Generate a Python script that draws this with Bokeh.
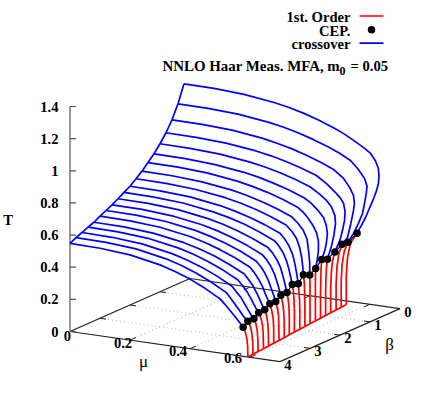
from bokeh.plotting import figure
from bokeh.models import Range1d
from bokeh.core.properties import value
from bokeh.embed import file_html
from bokeh.resources import INLINE

beta_values = [4.0, 3.8, 3.6, 3.4, 3.2, 3.0, 2.8, 2.6, 2.4, 2.2, 2.0, 1.8, 1.6, 1.4, 1.2, 1.0, 0.8, 0.6, 0.4, 0.2]

cep_mu = [.577, .573, .573, .569, .569, .566, .566, .563, .563, .561, .561, .558, .559, .559, .559, .558, .563, .567, .567, .577]
cep_T = [.181, .201, .199, .219, .221, .241, .239, .261, .261, .294, .282, .321, .304, .327, .366, .352, .382, .414, .410, .453]

first_order_mu = [
    [.593, .592, .589, .584, .577], [.590, .589, .586, .581, .573], [.587, .586, .584, .580, .573],
    [.585, .584, .582, .577, .569], [.582, .581, .579, .575, .569], [.579, .579, .577, .572, .566],
    [.577, .576, .575, .571, .566], [.574, .574, .572, .568, .563], [.571, .571, .570, .567, .563],
    [.568, .568, .567, .565, .561], [.566, .566, .565, .563, .561], [.563, .563, .562, .561, .558],
    [.560, .560, .560, .560, .559], [.558, .558, .558, .558, .559], [.555, .555, .556, .557, .559],
    [.552, .552, .553, .555, .558], [.549, .549, .551, .555, .563], [.547, .547, .550, .556, .567],
    [.544, .544, .547, .554, .567], [.541, .541, .545, .555, .577],
]
first_order_T = [
    [0, .072, .118, .154, .181], [0, .080, .131, .171, .201], [0, .080, .129, .169, .199],
    [0, .088, .142, .186, .219], [0, .088, .144, .188, .221], [0, .096, .157, .205, .241],
    [0, .096, .155, .203, .239], [0, .104, .170, .222, .261], [0, .104, .170, .222, .261],
    [0, .118, .191, .250, .294], [0, .113, .183, .240, .282], [0, .128, .209, .273, .321],
    [0, .122, .198, .258, .304], [0, .131, .213, .278, .327], [0, .146, .238, .311, .366],
    [0, .141, .229, .299, .352], [0, .153, .248, .325, .382], [0, .166, .269, .352, .414],
    [0, .164, .267, .349, .410], [0, .181, .294, .385, .453],
]

crossover_head_mu = [0, .1, .2, .3, .35, .4, .45, .5]
crossover_head_T = [
    [.548, .545, .530, .495, .467, .433, .389, .337],
    [.568, .565, .551, .516, .489, .455, .412, .361],
    [.583, .580, .566, .532, .506, .473, .432, .382],
    [.600, .597, .584, .551, .526, .493, .453, .405],
    [.614, .612, .598, .567, .543, .512, .473, .427],
    [.635, .633, .620, .589, .565, .534, .497, .451],
    [.654, .652, .639, .609, .585, .556, .519, .474],
    [.673, .671, .658, .629, .606, .577, .541, .498],
    [.694, .692, .680, .651, .629, .601, .566, .524],
    [.717, .715, .703, .675, .654, .627, .593, .552],
    [.739, .737, .726, .699, .678, .652, .619, .580],
    [.769, .767, .756, .730, .710, .685, .653, .615],
    [.800, .798, .787, .762, .742, .717, .686, .648],
    [.837, .835, .825, .800, .781, .757, .727, .691],
    [.875, .873, .863, .840, .822, .798, .770, .735],
    [.921, .919, .910, .887, .870, .848, .820, .787],
    [.973, .971, .962, .940, .923, .901, .874, .842],
    [1.037, 1.035, 1.026, 1.003, .985, .963, .935, .902],
    [1.120, 1.118, 1.109, 1.086, 1.069, 1.047, 1.019, .986],
    [1.228, 1.226, 1.216, 1.192, 1.174, 1.151, 1.122, 1.087],
]
crossover_tail_mu = [
    [.515, .530, .545, .557, .568],
    [.515, .530, .545, .557, .566],
    [.515, .530, .545, .557, .566],
    [.515, .530, .545, .555, .563],
    [.515, .530, .545, .555, .563],
    [.515, .530, .542, .552, .560],
    [.515, .530, .542, .552, .560],
    [.515, .530, .542, .552, .558],
    [.515, .530, .542, .552, .558],
    [.515, .530, .542, .550, .556],
    [.515, .530, .542, .550, .556],
    [.520, .535, .545, .552, .556],
    [.520, .538, .550, .556, .559],
    [.518, .532, .550, .562, .568, .568, .564],
    [.522, .545, .565, .574, .578, .575, .570],
    [.530, .555, .572, .583, .585, .580, .572],
    [.535, .565, .582, .592, .597, .595, .588, .580],
    [.540, .572, .592, .605, .608, .605, .596, .585],
    [.540, .575, .600, .622, .630, .628, .622, .615, .600, .585],
    [.535, .565, .600, .622, .638, .648, .650, .648, .641, .632, .605, .590],
]
crossover_tail_T = [
    [.310, .280, .250, .225, .202],
    [.330, .295, .260, .230, .212],
    [.350, .320, .275, .240, .215],
    [.375, .340, .295, .260, .235],
    [.395, .360, .310, .270, .240],
    [.420, .380, .340, .295, .265],
    [.445, .405, .360, .310, .270],
    [.470, .430, .385, .330, .290],
    [.495, .455, .410, .345, .300],
    [.525, .485, .435, .385, .335],
    [.550, .510, .460, .400, .340],
    [.580, .540, .490, .430, .370],
    [.615, .574, .525, .440, .380],
    [.665, .637, .592, .550, .500, .440, .380],
    [.711, .672, .630, .585, .534, .480, .430],
    [.752, .717, .680, .630, .581, .510, .440],
    [.800, .752, .720, .691, .640, .585, .520, .460],
    [.870, .825, .775, .728, .680, .635, .550, .461],
    [.955, .921, .875, .821, .776, .736, .670, .602, .530, .470],
    [1.058, 1.027, .990, .961, .920, .874, .825, .781, .730, .683, .558, .500],
]

mu_ticks = [0, .2, .4, .6]
mu_tick_labels = ["0", "0.2", "0.4", "0.6"]
beta_ticks = [0, 1, 2, 3, 4]
T_ticks = [0, .2, .4, .6, .8, 1, 1.2, 1.4]
T_tick_labels = ["0", "0.2", "0.4", "0.6", "0.8", "1", "1.2", "1.4"]
mu_max = 0.7
beta_max = 4


def sx(mu, beta):
    return 69.5 + 300 * mu + 30 * (4 - beta)


def sy(mu, beta, T):
    return 331 + 43 * mu - 13.25 * (4 - beta) - 160.7 * T


def seg(mus, betas, Ts):
    return [sx(m, b) for m, b in zip(mus, betas)], [sy(m, b, t) for m, b, t in zip(mus, betas, Ts)]


p = figure(width=420, height=383, output_backend="svg", toolbar_location=None,
           x_range=Range1d(0, 420), y_range=Range1d(383, 0), min_border=0)
p.axis.visible = False
p.grid.visible = False
p.outline_line_color = None
p.background_fill_color = "white"

FONT = value("Liberation Serif")
GREY = "#b4b4b4"
LW = 1.7

# floor grid
for m in mu_ticks[1:]:
    x, y = seg([m, m], [beta_max, 0], [0, 0])
    p.line(x, y, line_color=GREY, line_width=1, line_dash="1 3")
for b in beta_ticks[1:-1]:
    x, y = seg([0, mu_max], [b, b], [0, 0])
    p.line(x, y, line_color=GREY, line_width=1, line_dash="1 3")

# floor frame
for mus, bs in [([0, mu_max], [beta_max, beta_max]), ([mu_max, mu_max], [beta_max, 0]),
                ([mu_max, 0], [0, 0]), ([0, 0], [0, beta_max])]:
    x, y = seg(mus, bs, [0, 0])
    p.line(x, y, line_color="#222222", line_width=1.2)

# floor ticks
for m in mu_ticks[1:]:
    x, y = seg([m, m], [beta_max, beta_max - 0.2], [0, 0])
    p.line(x, y, line_color="#222222", line_width=1)
    x, y = seg([m, m], [0, 0.2], [0, 0])
    p.line(x, y, line_color="#222222", line_width=1)
for b in beta_ticks[1:-1]:
    x, y = seg([0, 0.02], [b, b], [0, 0])
    p.line(x, y, line_color="#222222", line_width=1)
    x, y = seg([mu_max, mu_max - 0.02], [b, b], [0, 0])
    p.line(x, y, line_color="#222222", line_width=1)

# T axis
x, y = seg([0, 0], [beta_max, beta_max], [T_ticks[0], T_ticks[-1]])
p.line(x, y, line_color="#555555", line_width=1.2)
for t in T_ticks:
    x, y = seg([0, 0.02], [beta_max, beta_max], [t, t])
    p.line([x[0], x[0] + 6], [y[0], y[0]], line_color="#555555", line_width=1.2)

# first-order lines
for b, ms, ts in zip(beta_values, first_order_mu, first_order_T):
    x, y = seg(ms, [b] * len(ms), ts)
    p.line(x, y, line_color="#ff0000", line_width=LW)
x, y = seg([m[0] for m in first_order_mu], beta_values, [0] * len(beta_values))
p.line(x, y, line_color="#ff0000", line_width=LW)

# crossover lines
for b, ht, tm, tt, cm, ct in zip(beta_values, crossover_head_T, crossover_tail_mu, crossover_tail_T, cep_mu, cep_T):
    ms = crossover_head_mu + tm + [cm]
    ts = ht + tt + [ct]
    x, y = seg(ms, [b] * len(ms), ts)
    p.line(x, y, line_color="#0000ff", line_width=LW, line_join="round")
x, y = seg([0] * len(beta_values), beta_values, [h[0] for h in crossover_head_T])
p.line(x, y, line_color="#0000ff", line_width=LW)

# CEP
x, y = seg(cep_mu, beta_values, cep_T)
p.line(x, y, line_color="black", line_width=1.2)
p.scatter(x, y, size=7.5, fill_color="black", line_color="black", line_width=0)


def label(px, py, s, align="center", size="14.6px", style="bold"):
    p.text([px], [py], text=[s], text_font=FONT, text_font_size=size, text_font_style=style,
           text_align=align, text_baseline="middle", text_color="black")


# axis labels
for t, s in zip(T_ticks, T_tick_labels):
    label(58, sy(0, beta_max, t), s, "right")
label(7.5, 219, "T")
for m, s, dx, dy in zip(mu_ticks, mu_tick_labels, [-2.5, -7, -12, -17], [4, 3, 2, 1]):
    label(sx(m, beta_max) + dx, sy(m, beta_max, 0) + dy, s)
for b in beta_ticks:
    label(sx(mu_max, b) + 8, sy(mu_max, b, 0) + 3, str(b))
label(143, 361, "\u03bc", size="17px", style="normal")
label(389, 344, "\u03b2", size="17px", style="normal")

# legend
label(350, 16, "1st. Order", "right")
label(350, 30, "CEP.", "right")
label(350, 43.5, "crossover", "right")
p.line([359, 383], [15.5, 15.5], line_color="#ff0000", line_width=LW)
p.line([359, 383], [42.7, 42.7], line_color="#0000ff", line_width=LW)
p.scatter([371], [29.3], size=7.5, fill_color="black", line_color="black", line_width=0)

# title
label(162, 65, "NNLO Haar Meas. MFA, m", "left", size="14.9px")
label(339, 70, "0", "left", size="12px")
label(350, 65, "= 0.05", "left")

open("out.html", "w").write(file_html(p, INLINE))
